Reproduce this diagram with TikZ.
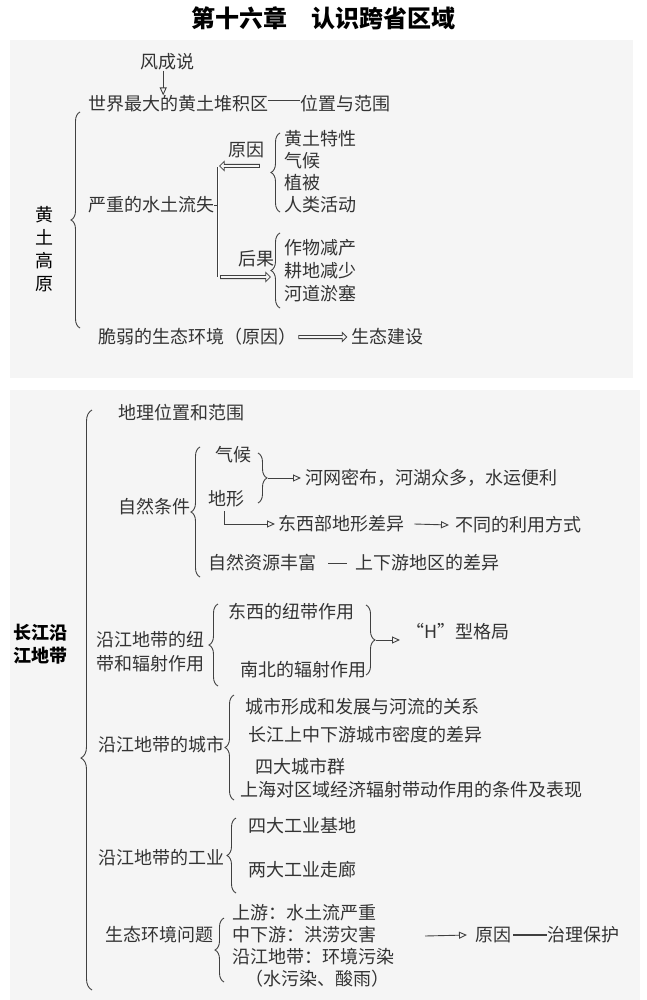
\documentclass[tikz,border=0pt]{standalone}
\usepackage{fontspec}
\setmainfont{Noto Sans CJK SC}
\usetikzlibrary{decorations.pathreplacing,arrows.meta,shapes.arrows}
\begin{document}
\begin{tikzpicture}[x=1pt,y=-1pt,
  t/.style={anchor=west,inner sep=0pt,font=\fontsize{18}{21}\selectfont,text=black!80},
  br/.style={decorate,decoration={brace,amplitude=9pt},draw=black!75,line width=0.9pt},
  ln/.style={draw=black!75,line width=0.9pt},
  ar/.style={ln,-{Triangle[open,length=8pt,width=7pt]}},
  hol/.style={single arrow,draw=black!75,line width=0.8pt,minimum height=#1,single arrow head extend=3pt,inner sep=1.2pt,minimum width=9pt}]
\useasboundingbox (0,0) rectangle (646,1000);
\fill[white] (0,0) rectangle (646,1000);
\fill[black!4] (10,40) rectangle (633,378);
\fill[black!4] (10,390) rectangle (640,1000);
\node[font=\fontsize{24}{28}\selectfont\bfseries] (title) at (323,18) {第十六章\quad 认识跨省区域};
% panel 1
\node[t] (fcs) at (140,62) {风成说};
\node[t] (sj) at (88,104) {世界最大的黄土堆积区};
\node[t] (wz) at (300,104) {位置与范围};
\draw[ar] (fcs.south) ++(-4,0) coordinate (fs) -- (fs |- sj.north);
\draw[ln] (sj.east) ++(0,-4) coordinate(sje) -- (sje -| wz.west);
\draw[br] (80,328) -- (80,112);
\node[inner sep=0pt,font=\fontsize{18}{23}\selectfont,align=center] (hg) at (44,249) {黄\\土\\高\\原};
\node[t] (yz) at (88,205) {严重的水土流失};
\coordinate (vt) at (218,167); \coordinate (vb) at (218,277);
\draw[ln,double,double distance=1pt] (vt) -- (vb);
\draw[ln] (yz.east) -- (yz.east -| vt);
\node[t] (yy) at (228,150) {原因};
\node[hol=40pt,shape border rotate=180,anchor=tip] (a1) at (219,166) {};
\draw[br] (280,212) -- (280,133);
\node[t] (h1) at (284,139) {黄土特性};
\node[t] (h2) at (284,161) {气候};
\node[t] (h3) at (284,183) {植被};
\node[t] (h4) at (284,205) {人类活动};
\node[t] (hgg) at (238,259) {后果};
\node[hol=50pt,anchor=tail] (a2) at (220,277) {};
\draw[br] (280,308) -- (280,233);
\node[t] (g1) at (284,248) {作物减产};
\node[t] (g2) at (284,271) {耕地减少};
\node[t] (g3) at (284,294) {河道淤塞};
\node[t] (cr) at (98,337) {脆弱的生态环境（原因）};
\node[hol=48pt,anchor=tail] (a3) at ([xshift=2pt]cr.east) {};
\node[t] (st) at ([xshift=4pt]a3.tip) {生态建设};
% panel 2
\draw[br,decoration={brace,amplitude=11pt,aspect=0.4}] (92,990) -- (92,410);
\node[inner sep=0pt,font=\fontsize{18}{23}\selectfont\bfseries,align=center] (cj) at (40,644) {长江沿\\江地带};
\node[t] (dl) at (118,413) {地理位置和范围};
\node[t] (zr) at (118,507) {自然条件};
\draw[br] (200,577) -- (200,447);
\node[t] (qh) at (215,455) {气候};
\node[t] (dx) at (208,499) {地形};
\draw[br] (258,453) -- (258,503);
\node[t] (hw) at (305,478) {河网密布，河湖众多，水运便利};
\draw[ar] (268,478) -- ([xshift=-4pt]hw.west);
\node[t] (dxb) at (278,524) {东西部地形差异};
\draw[ar] (224,511) |- ([xshift=-3pt]dxb.west);
\node[t] (bt) at (455,525) {不同的利用方式};
\draw[ar] ([xshift=10pt]dxb.east) -- ([xshift=-6pt]bt.west);
\node[t] (zy) at (208,563) {自然资源丰富};
\node[t] (sx) at (355,563) {上下游地区的差异};
\draw[ln] (328,563) -- (347,563);
\node[t,align=left,font=\fontsize{18}{24}\selectfont] (nd) at (96,652) {沿江地带的纽\\带和辐射作用};
\draw[br] (218,686) -- (218,604);
\node[t] (dx1) at (228,612) {东西的纽带作用};
\node[t] (nb) at (240,670) {南北的辐射作用};
\draw[br] (366,605) -- (366,675);
\node[t] (H) at (406,632) {\char"201C H\char"201D 型格局};
\draw[ar] (376,640) -- (400,640);
\node[t] (cs) at (98,745) {沿江地带的城市};
\draw[br] (234,800) -- (234,695);
\node[t] (c1) at (245,707) {城市形成和发展与河流的关系};
\node[t] (c2) at (248,735) {长江上中下游城市密度的差异};
\node[t] (c3) at (255,767) {四大城市群};
\node[t] (c4) at (240,790) {上海对区域经济辐射带动作用的条件及表现};
\node[t] (gy) at (98,858) {沿江地带的工业};
\draw[br] (236,893) -- (236,818);
\node[t] (i1) at (248,826) {四大工业基地};
\node[t] (i2) at (248,870) {两大工业走廊};
\node[t] (sh) at (105,935) {生态环境问题};
\draw[br] (224,982) -- (224,918);
\node[t] (e1) at (232,913) {上游：水土流严重};
\node[t] (e2) at (232,935) {中下游：洪涝灾害};
\node[t] (e3) at (232,957) {沿江地带：环境污染};
\node[t] (e4) at (245,979) {（水污染、酸雨）};
\node[t] (yy2) at (475,935) {原因};
\node[t] (zl) at (547,935) {治理保护};
\draw[ar] (425,936) -- ([xshift=-8pt]yy2.west);
\draw[ln,line width=2pt] ([xshift=2pt]yy2.east) -- (zl.west);
\end{tikzpicture}
\end{document}
